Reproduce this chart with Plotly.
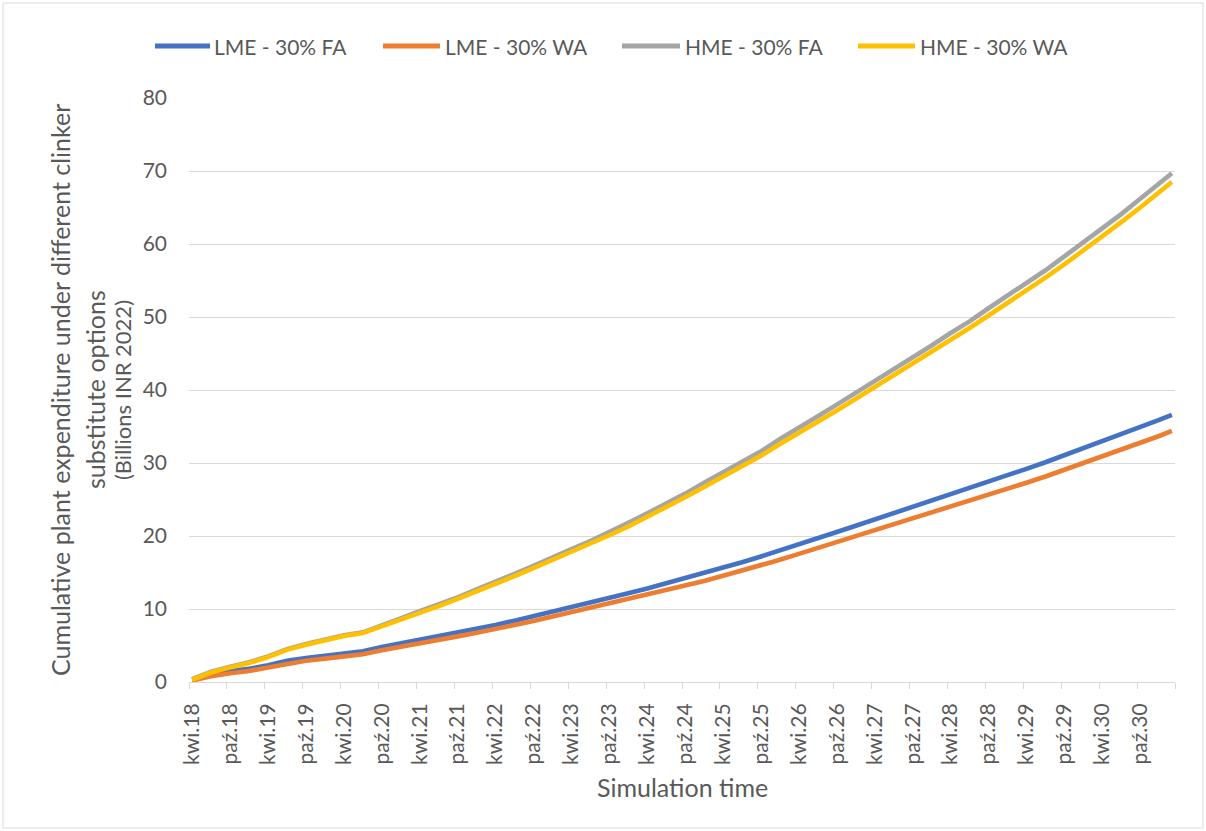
import plotly.graph_objects as go

# Month index counted from April 2018 (0 = kwi.18), quarterly samples plus the final month
months = [0, 3, 6, 9, 12, 15, 18, 21, 24, 27,
          30, 33, 36, 39, 42, 45, 48, 51, 54, 57,
          60, 63, 66, 69, 72, 75, 78, 81, 84, 87,
          90, 93, 96, 99, 102, 105, 108, 111, 114, 117,
          120, 123, 126, 129, 132, 135, 138, 141, 144, 147,
          150, 153, 155]

# Cumulative plant expenditure, billions INR 2022
lme_fa = [0.3, 1.0, 1.5, 1.8, 2.3, 2.9, 3.3, 3.6, 3.9, 4.2,
          4.8, 5.3, 5.7, 6.2, 6.8, 7.3, 7.8, 8.4, 9.0, 9.6,
          10.2, 10.85, 11.5, 12.15, 12.8, 13.5, 14.2, 14.9, 15.65, 16.4,
          17.2, 18.0, 18.85, 19.7, 20.55, 21.4, 22.25, 23.1, 23.95, 24.8,
          25.65, 26.5, 27.4, 28.3, 29.2, 30.1, 31.05, 32.0, 32.95, 33.9,
          34.9, 35.9, 36.6]

lme_wa = [0.2, 0.8, 1.2, 1.5, 2.0, 2.5, 2.9, 3.2, 3.5, 3.8,
          4.35, 4.8, 5.2, 5.7, 6.25, 6.75, 7.2, 7.8, 8.35, 8.95,
          9.5, 10.1, 10.7, 11.3, 11.9, 12.55, 13.2, 13.85, 14.55, 15.25,
          16.0, 16.75, 17.55, 18.35, 19.15, 19.95, 20.75, 21.55, 22.35, 23.15,
          23.95, 24.75, 25.6, 26.45, 27.3, 28.15, 29.05, 29.95, 30.85, 31.8,
          32.75, 33.7, 34.4]

hme_fa = [0.4, 1.4, 2.1, 2.7, 3.5, 4.5, 5.2, 5.8, 6.4, 6.8,
          7.7, 8.7, 9.7, 10.6, 11.6, 12.7, 13.7, 14.8, 15.9, 17.1,
          18.2, 19.3, 20.5, 21.8, 23.1, 24.4, 25.8, 27.3, 28.7, 30.1,
          31.6, 33.3, 34.8, 36.4, 38.0, 39.6, 41.2, 42.8, 44.5, 46.1,
          47.8, 49.4, 51.2, 52.9, 54.6, 56.4, 58.3, 60.2, 62.1, 64.1,
          66.2, 68.3, 69.7]

hme_wa = [0.3, 1.3, 2.0, 2.6, 3.4, 4.4, 5.1, 5.7, 6.3, 6.7,
          7.6, 8.5, 9.5, 10.4, 11.4, 12.4, 13.4, 14.5, 15.6, 16.7,
          17.8, 18.9, 20.1, 21.3, 22.6, 23.9, 25.3, 26.7, 28.1, 29.5,
          31.0, 32.6, 34.1, 35.7, 37.2, 38.8, 40.4, 42.0, 43.6, 45.2,
          46.9, 48.5, 50.2, 51.9, 53.6, 55.4, 57.2, 59.1, 61.0, 63.0,
          65.0, 67.1, 68.5]

series_names = ["LME - 30% FA", "LME - 30% WA", "HME - 30% FA", "HME - 30% WA"]
series_values = [lme_fa, lme_wa, hme_fa, hme_wa]
series_colors = ["#4472C4", "#ED7D31", "#A5A5A5", "#FFC000"]

tick_months = [0, 6, 12, 18, 24, 30, 36, 42, 48, 54, 60, 66, 72,
               78, 84, 90, 96, 102, 108, 114, 120, 126, 132, 138, 144, 150]
tick_labels = ["kwi.18", "paź.18", "kwi.19", "paź.19", "kwi.20", "paź.20",
               "kwi.21", "paź.21", "kwi.22", "paź.22", "kwi.23", "paź.23",
               "kwi.24", "paź.24", "kwi.25", "paź.25", "kwi.26", "paź.26",
               "kwi.27", "paź.27", "kwi.28", "paź.28", "kwi.29", "paź.29",
               "kwi.30", "paź.30"]

n_months = 156

W, H = 1206, 831
L, R, T, B = 189, 31, 98, 149
PW, PH = W - L - R, H - T - B
TEXT = "#595959"
GRID = "#D9D9D9"
FONT = "Lato"


def px_x(px):
    return (px - L) / PW


def px_y(py):
    return (H - B - py) / PH


fig = go.Figure()
for name, vals, col in zip(series_names, series_values, series_colors):
    fig.add_trace(go.Scatter(
        x=months, y=vals, name=name, mode="lines",
        line=dict(color=col, width=4.6),
        showlegend=False,
    ))

# tick marks sit on category boundaries, labels at category centres
boundaries = [m - 0.5 for m in range(0, n_months + 1, 6)]

fig.update_xaxes(
    range=[-0.5, n_months - 0.5],
    tickmode="array", tickvals=tick_months, ticktext=tick_labels,
    tickangle=-90, ticks="", showgrid=False, zeroline=False,
    showline=True, linecolor=GRID, linewidth=1,
    tickfont=dict(family=FONT, size=21, color=TEXT),
    ticklabelstandoff=12,
    minor=dict(tickmode="array", tickvals=boundaries, ticks="outside",
               ticklen=6, tickcolor=GRID, tickwidth=1, showgrid=False),
)
fig.update_yaxes(
    range=[0, 80], tickmode="linear", tick0=0, dtick=10,
    showgrid=True, gridcolor=GRID, gridwidth=1,
    zeroline=False, showline=False, ticks="",
    tickfont=dict(family=FONT, size=21, color=TEXT),
    ticklabelstandoff=21,
)

annotations = []
# y-axis title, three lines
for text, cx, size in [
    ("Cumulative plant expenditure under different clinker", 60, 25),
    ("substitute options", 95, 25),
    ("(Billions INR 2022)", 122, 22),
]:
    annotations.append(dict(
        text=text, x=px_x(cx), y=0.5, xref="paper", yref="paper",
        xanchor="center", yanchor="middle", textangle=-90, showarrow=False,
        font=dict(family=FONT, size=size, color=TEXT),
    ))
# x-axis title
annotations.append(dict(
    text="Simulation time", x=0.5, y=px_y(787), xref="paper", yref="paper",
    xanchor="center", yanchor="middle", showarrow=False,
    font=dict(family=FONT, size=25, color=TEXT),
))

shapes = []
# legend row
legend_line_x = [(155, 210), (383, 440), (622, 680), (858, 915)]
legend_text_x = [212, 443, 683, 918]
legend_y = 46
for name, col, (x0, x1), tx in zip(series_names, series_colors, legend_line_x, legend_text_x):
    shapes.append(dict(
        type="line", xref="paper", yref="paper",
        x0=px_x(x0), x1=px_x(x1), y0=px_y(legend_y), y1=px_y(legend_y),
        line=dict(color=col, width=5),
    ))
    annotations.append(dict(
        text=name, x=px_x(tx), y=px_y(legend_y), xref="paper", yref="paper",
        xanchor="left", yanchor="middle", showarrow=False,
        font=dict(family=FONT, size=21, color=TEXT),
    ))

# chart frame
shapes.append(dict(
    type="rect", xref="paper", yref="paper", layer="below",
    x0=px_x(3), x1=px_x(1203), y0=px_y(828), y1=px_y(3),
    line=dict(color=GRID, width=1), fillcolor="rgba(0,0,0,0)",
))

fig.update_layout(
    width=W, height=H,
    margin=dict(l=L, r=R, t=T, b=B),
    paper_bgcolor="white", plot_bgcolor="white",
    font=dict(family=FONT, color=TEXT),
    annotations=annotations, shapes=shapes,
    showlegend=False,
)

fig.write_html("out.html")
